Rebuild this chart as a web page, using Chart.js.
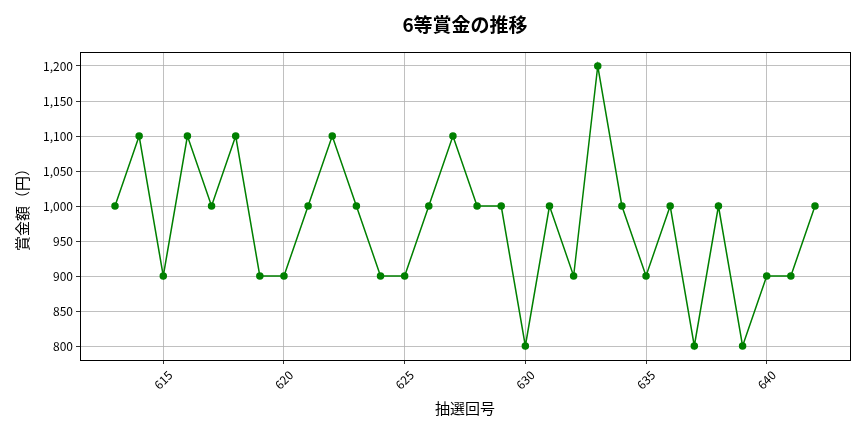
<!DOCTYPE html>
<html>
<head>
<meta charset="utf-8">
<script src="https://cdn.jsdelivr.net/npm/chart.js@4"></script>
<style>
html,body{margin:0;padding:0;background:#fff;}
#wrap{width:864px;height:432px;}
</style>
</head>
<body>
<div id="wrap"><canvas id="c" width="864" height="432"></canvas></div>
<script>
const draws = [613,614,615,616,617,618,619,620,621,622,623,624,625,626,627,628,629,630,631,632,633,634,635,636,637,638,639,640,641,642];
const prizes = [1000,1100,900,1100,1000,1100,900,900,1000,1100,1000,900,900,1000,1100,1000,1000,800,1000,900,1200,1000,900,1000,800,1000,800,900,900,1000];
const xTicks = [615,620,625,630,635,640];
const yTicks = [800,850,900,950,1000,1050,1100,1150,1200];
const titleText = '6等賞金の推移';
const xTitle = '抽選回号';
const yTitle = '賞金額（円）';

const FONT = "'Noto Sans CJK JP', 'Noto Sans', sans-serif";

const decor = {
  id: 'decor',
  afterDraw(chart) {
    const {ctx, chartArea: a} = chart;
    ctx.save();
    // frame
    ctx.strokeStyle = '#000';
    ctx.lineWidth = 1;
    ctx.strokeRect(Math.round(a.left)+0.5, Math.round(a.top)+0.5, Math.round(a.right-a.left), Math.round(a.bottom-a.top));
    // title centred over plot area
    ctx.fillStyle = '#000';
    ctx.font = "bold 19px " + FONT;
    ctx.textAlign = 'center';
    ctx.textBaseline = 'middle';
    ctx.fillText(titleText, (a.left + a.right) / 2, 25);
    // x tick labels, rotated 45° and centred on the tick
    const xs = chart.scales.x;
    ctx.font = "12px " + FONT;
    xs.ticks.forEach(t => {
      const px = xs.getPixelForValue(t.value);
      ctx.save();
      ctx.translate(px, a.bottom + 20);
      ctx.rotate(-Math.PI / 4);
      ctx.fillText(String(t.value), 0, 0);
      ctx.restore();
    });
    ctx.restore();
  }
};

new Chart(document.getElementById('c'), {
  type: 'line',
  data: {
    datasets: [{
      data: draws.map((d, i) => ({x: d, y: prizes[i]})),
      borderColor: '#008000',
      backgroundColor: '#008000',
      borderWidth: 1.5,
      pointRadius: 3,
      pointBackgroundColor: '#008000',
      pointBorderColor: '#008000',
      tension: 0,
      fill: false
    }]
  },
  options: {
    responsive: false,
    animation: false,
    devicePixelRatio: 1,
    layout: {padding: {left: 0, right: 14, top: 52, bottom: 0}},
    plugins: {
      legend: {display: false},
      tooltip: {enabled: false},
      title: {display: false}
    },
    scales: {
      x: {
        type: 'linear',
        min: 611.55,
        max: 643.45,
        afterBuildTicks(s) { s.ticks = xTicks.map(v => ({value: v})); },
        afterFit(s) { s.height = 72; },
        ticks: {display: false},
        grid: {color: '#b0b0b0', lineWidth: 0.8, tickLength: 4, tickColor: '#000', drawTicks: true},
        border: {display: false},
        title: {
          display: true, text: xTitle, color: '#000',
          font: {family: FONT, size: 15, lineHeight: 1.2},
          padding: {top: 0, bottom: 15}
        }
      },
      y: {
        type: 'linear',
        min: 780,
        max: 1220,
        afterBuildTicks(s) { s.ticks = yTicks.map(v => ({value: v})); },
        afterFit(s) { s.width = 80; },
        ticks: {
          color: '#000',
          font: {family: FONT, size: 12},
          padding: 3,
          callback: v => v.toLocaleString('en-US')
        },
        grid: {color: '#b0b0b0', lineWidth: 0.8, tickLength: 4, tickColor: '#000', drawTicks: true},
        border: {display: false},
        title: {
          display: true, text: yTitle, color: '#000',
          font: {family: FONT, size: 15, lineHeight: 1.2},
          padding: {top: 13, bottom: 0}
        }
      }
    }
  },
  plugins: [decor]
});
</script>
</body>
</html>
